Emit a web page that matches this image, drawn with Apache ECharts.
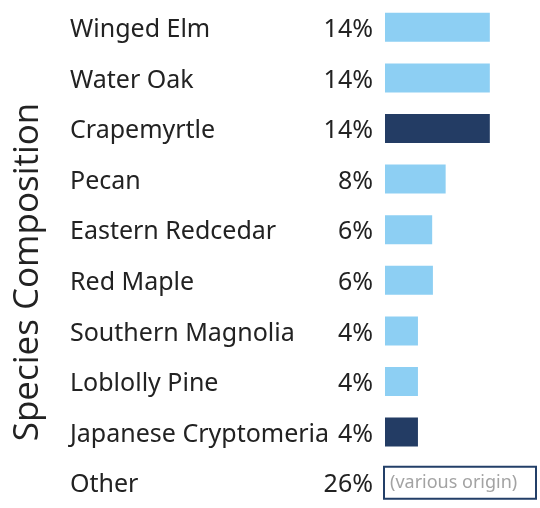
<!DOCTYPE html>
<html>
<head>
<meta charset="utf-8">
<script src="https://cdn.jsdelivr.net/npm/echarts@6/dist/echarts.min.js"></script>
<style>
  html, body { margin: 0; padding: 0; background: #fff; }
  #chart { width: 540px; height: 508px; }
</style>
</head>
<body>
<div id="chart"></div>
<script>
// species composition
var species = ["Winged Elm", "Water Oak", "Crapemyrtle", "Pecan", "Eastern Redcedar",
  "Red Maple", "Southern Magnolia", "Loblolly Pine", "Japanese Cryptomeria", "Other"];
var shares = [14, 14, 14, 8.1, 6.3, 6.4, 4.4, 4.4, 4.4, 26];
var pctLabels = ["14%", "14%", "14%", "8%", "6%", "6%", "4%", "4%", "4%", "26%"];
// non-native species are drawn dark
var nonNative = [false, false, true, false, false, false, false, false, true, false];
var otherNote = "(various origin)";

(function () {
  var myChart = echarts.init(document.getElementById("chart"));
  var labelFont = "Noto Sans";

  var barData = shares.map(function (v, i) {
    if (species[i] === "Other") {
      return {
        value: v,
        itemStyle: { color: "transparent" },
        label: {
          show: true,
          position: "insideLeft",
          distance: 0,
          formatter: otherNote,
          fontFamily: labelFont,
          fontSize: 18,
          color: "#a3a3a3",
          backgroundColor: "#fff",
          borderColor: "#233f68",
          borderWidth: 2,
          width: 140,
          height: 28,
          padding: [2, 5, 0, 5]
        }
      };
    }
    return {
      value: v,
      itemStyle: { color: nonNative[i] ? "#233c64" : "#8dcff3" }
    };
  });

  option = {
    animation: false,
    grid: { left: 385, right: 3, top: 2, height: 510 },
    xAxis: {
      type: "value",
      min: 0,
      max: 20.3,
      show: false
    },
    yAxis: {
      type: "category",
      data: species,
      inverse: true,
      axisLine: { show: false },
      axisTick: { show: false },
      axisLabel: {
        align: "left",
        margin: 315,
        formatter: function (value, idx) {
          return "{n|" + value + "}{p|" + pctLabels[idx] + "}";
        },
        rich: {
          n: { width: 264, align: "left", fontFamily: labelFont, fontSize: 25, color: "#222", padding: [5, 0, 0, 0] },
          p: { width: 39, align: "right", fontFamily: labelFont, fontSize: 25, color: "#222", padding: [5, 0, 0, 0] }
        }
      }
    },
    graphic: [
      {
        type: "text",
        x: 28,
        y: 272,
        rotation: Math.PI / 2,
        style: {
          text: "Species Composition",
          fontFamily: "Open Sans",
          fontSize: 35,
          fill: "#222",
          align: "center",
          verticalAlign: "middle"
        }
      }
    ],
    series: [
      {
        type: "bar",
        barWidth: 29,
        clip: true,
        data: barData
      }
    ]
  };
  myChart.setOption(option);
})();
</script>
</body>
</html>
